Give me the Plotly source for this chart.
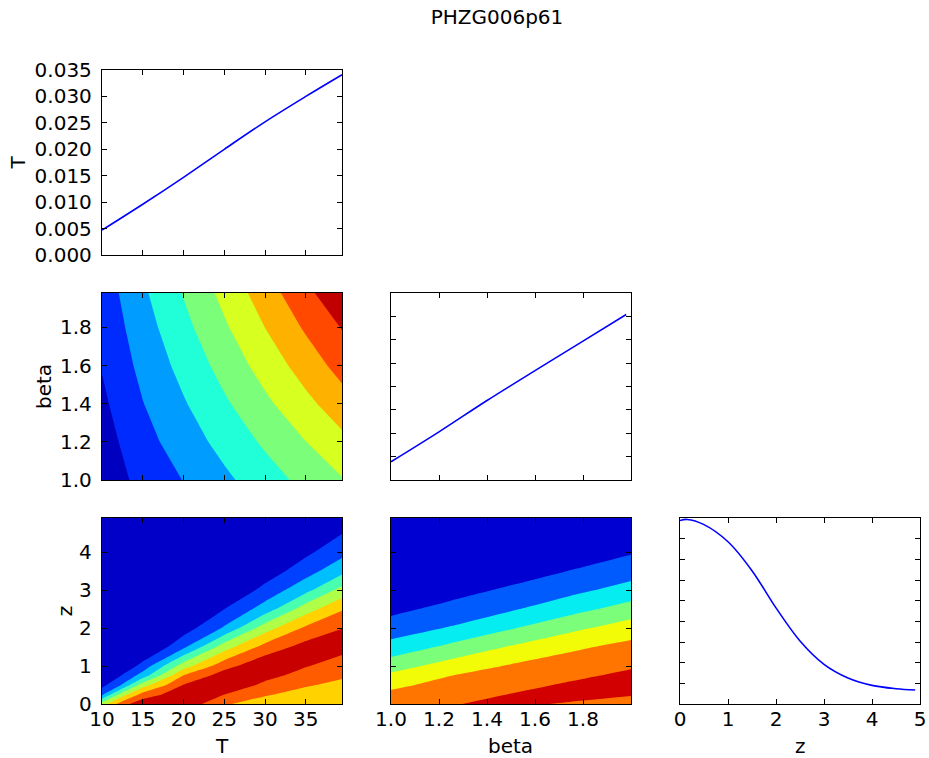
import plotly.graph_objects as go

title_text = "PHZG006p61"

# ---- 1-D marginal curves ----
T_line_x = [10, 15, 20, 25, 30, 35, 39.44]
T_line_p = [0.0047, 0.0096, 0.0147, 0.0200, 0.0252, 0.0300, 0.0341]

beta_line_x = [1.0, 1.2, 1.4, 1.6, 1.8, 1.98]
beta_line_p = [0.0039, 0.0103, 0.0170, 0.0234, 0.0297, 0.0354]

z_line_x = [0, 0.15, 0.5, 1.0, 1.5, 2.0, 2.5, 3.0, 3.5, 4.0, 4.5, 4.9]
z_line_p = [0.0888, 0.0893, 0.0868, 0.0785, 0.0645, 0.0465, 0.0305, 0.0192,
            0.0126, 0.0090, 0.0074, 0.0068]

# ---- 2-D grids (band level estimated at each node) ----
tb_T = [10, 15, 20, 25, 30, 35, 39.44]
tb_beta = [1.0, 1.2, 1.4, 1.6, 1.8, 1.98]
tb_level = [
    [0.45, 1.27, 2.03, 2.79, 3.55, 4.30, 4.93],
    [0.55, 1.65, 2.49, 3.33, 4.16, 4.99, 5.74],
    [0.80, 1.97, 2.91, 3.85, 4.79, 5.74, 6.57],
    [1.06, 2.28, 3.32, 4.36, 5.41, 6.45, 7.38],
    [1.25, 2.57, 3.72, 4.86, 6.01, 7.14, 8.05],
    [1.42, 2.83, 4.06, 5.29, 6.52, 7.75, 8.75],
]

tz_T = [10, 12.5, 15, 20, 25, 30, 35, 39.44]
tz_z = [0, 0.25, 0.5, 0.75, 1.0, 1.5, 2.0, 2.5, 3.0, 3.5, 4.0, 4.5, 4.9]
tz_level = [
    [4.54, 6.61, 7.69, 7.73, 6.12, 5.48, 5.20, 5.20],
    [1.82, 4.53, 6.37, 7.70, 7.01, 6.11, 5.62, 5.35],
    [0.68, 2.10, 4.54, 7.05, 7.91, 6.73, 6.10, 5.75],
    [-0.45, 1.09, 2.44, 6.04, 7.48, 7.36, 6.58, 6.14],
    [-1, 0.13, 1.39, 4.54, 6.65, 7.77, 7.06, 6.54],
    [-1, -1, -0.26, 1.80, 4.54, 6.38, 7.38, 7.33],
    [-1, -1, -1, 0.49, 2.12, 4.53, 6.19, 6.99],
    [-1, -1, -1, -0.81, 0.99, 2.45, 4.53, 5.91],
    [-1, -1, -1, -1, -0.09, 1.33, 2.70, 4.36],
    [-1, -1, -1, -1, -1, 0.42, 1.59, 2.72],
    [-1, -1, -1, -1, -1, -0.50, 0.79, 1.69],
    [-1, -1, -1, -1, -1, -1, -0.01, 0.97],
    [-1, -1, -1, -1, -1, -1, -0.64, 0.40],
]

bz_beta = [1.0, 1.25, 1.5, 1.75, 2.0]
bz_z = [0, 0.25, 0.5, 0.75, 1.0, 1.5, 2.0, 2.5, 3.0, 3.5, 4.0, 4.5, 4.9]
bz_level = [
    [5.53, 5.94, 6.25, 5.86, 5.48],
    [5.21, 5.62, 6.03, 6.42, 6.10],
    [4.79, 5.31, 5.72, 6.12, 6.51],
    [4.19, 4.99, 5.41, 5.81, 6.20],
    [3.58, 4.42, 5.10, 5.51, 5.90],
    [2.36, 3.24, 4.09, 4.82, 5.30],
    [1.48, 2.08, 2.92, 3.76, 4.50],
    [0.73, 1.32, 1.89, 2.65, 3.44],
    [-0.01, 0.60, 1.18, 1.73, 2.39],
    [-0.76, -0.13, 0.47, 1.04, 1.58],
    [-1, -0.86, -0.24, 0.35, 0.91],
    [-1, -1, -0.95, -0.35, 0.23],
    [-1, -1, -1, -0.90, -0.31],
]

# band colours (jet colour map sampled at band centres)
tb_colors = ["rgb(0,0,192)", "rgb(0,43,255)", "rgb(0,156,255)", "rgb(32,255,215)",
             "rgb(123,255,123)", "rgb(215,255,32)", "rgb(255,177,0)", "rgb(255,72,0)",
             "rgb(192,0,0)"]
tz_colors = ["rgb(0,0,200)", "rgb(0,64,255)", "rgb(0,191,255)", "rgb(72,255,175)",
             "rgb(175,255,72)", "rgb(255,210,0)", "rgb(255,92,0)", "rgb(200,0,0)"]
bz_colors = ["rgb(0,0,210)", "rgb(0,91,255)", "rgb(6,237,241)", "rgb(123,255,123)",
             "rgb(241,252,6)", "rgb(255,117,0)", "rgb(210,0,0)"]

# x-axis titles of the bottom row
x_titles = ["T", "beta", "z"]


def stepped(colors):
    n = len(colors)
    scale = []
    for k, c in enumerate(colors):
        lo = max(0.0, (k - 0.5) / n)
        hi = min(1.0, (k + 0.5) / n) if k < n - 1 else 1.0
        scale.append([lo, c])
        scale.append([hi, c])
    return scale


FONT = "DejaVu Sans"
W, H = 929, 758
cols = [(102, 342), (391, 631), (680, 920)]
rows = [(70, 255), (293, 480), (518, 704)]


def xdom(c):
    return [cols[c][0] / W, cols[c][1] / W]


def ydom(r):
    return [1 - rows[r][1] / H, 1 - rows[r][0] / H]


fig = go.Figure()

LINE = dict(color="#0000ff", width=1.6, shape="spline")

fig.add_trace(go.Scatter(x=T_line_x, y=T_line_p, mode="lines", line=LINE,
                         xaxis="x", yaxis="y", showlegend=False, hoverinfo="skip"))
fig.add_trace(go.Scatter(x=beta_line_x, y=beta_line_p, mode="lines", line=LINE,
                         xaxis="x3", yaxis="y3", showlegend=False, hoverinfo="skip"))
fig.add_trace(go.Scatter(x=z_line_x, y=z_line_p, mode="lines", line=LINE,
                         xaxis="x6", yaxis="y6", showlegend=False, hoverinfo="skip"))


def contour(x, y, z, colors, xa, ya):
    return go.Contour(
        x=x, y=y, z=z, colorscale=stepped(colors), showscale=False, autocontour=False,
        contours=dict(start=1, end=len(colors), size=1, coloring="fill", showlines=False),
        line=dict(width=0, smoothing=0), xaxis=xa, yaxis=ya, hoverinfo="skip")


fig.add_trace(contour(tb_T, tb_beta, tb_level, tb_colors, "x2", "y2"))
fig.add_trace(contour(tz_T, tz_z, tz_level, tz_colors, "x4", "y4"))
fig.add_trace(contour(bz_beta, bz_z, bz_level, bz_colors, "x5", "y5"))

tickfont = dict(family=FONT, size=20, color="black")
titlefont = dict(family=FONT, size=20, color="black")


def axis(dom, rng, tickvals, labels, anchor, fmt=None, title=None, standoff=None, lstand=5):
    d = dict(domain=dom, range=rng, tickvals=tickvals, showticklabels=labels,
             showline=True, linecolor="black", linewidth=1.3, mirror="ticks",
             ticks="inside", ticklen=5, tickwidth=1, tickcolor="black",
             showgrid=False, zeroline=False, tickfont=tickfont, anchor=anchor,
             ticklabelstandoff=lstand, automargin=False)
    if fmt:
        d["tickformat"] = fmt
    if title:
        d["title"] = dict(text=title, font=titlefont, standoff=standoff)
    return d


eps = 1e-9
Tticks = [10, 15, 20, 25, 30, 35]
bticks = [1.0, 1.2, 1.4, 1.6, 1.8]
zticks = [0, 1, 2, 3, 4]

annotations = []
for c, txt in enumerate(x_titles):
    annotations.append(dict(
        text=txt, xref="paper", yref="paper", x=(cols[c][0] + cols[c][1]) / 2 / W,
        y=1 - 746 / H, xanchor="center", yanchor="middle", showarrow=False,
        font=titlefont))

fig.update_layout(
    template="none",
    width=W, height=H, margin=dict(l=0, r=0, t=0, b=0, autoexpand=False),
    paper_bgcolor="white", plot_bgcolor="white", showlegend=False,
    title=dict(text=title_text, x=497 / W, xanchor="center", y=1 - 17 / H, yanchor="middle",
               yref="container", xref="container", font=dict(family=FONT, size=20, color="black")),
    annotations=annotations,
    # top-left: T marginal
    xaxis=axis(xdom(0), [10, 39.44], Tticks, False, "y"),
    yaxis=axis(ydom(0), [0 - eps, 0.035 + eps], [0, 0.005, 0.01, 0.015, 0.02, 0.025, 0.03, 0.035],
               True, "x", fmt=".3f", title="T", standoff=3),
    # middle-left: T vs beta
    xaxis2=axis(xdom(0), [10, 39.44], Tticks, False, "y2"),
    yaxis2=axis(ydom(1), [1.0 - eps, 1.98], bticks, True, "x2", fmt=".1f", title="beta", standoff=3),
    # middle: beta marginal
    xaxis3=axis(xdom(1), [1.0, 2.0], bticks, False, "y3"),
    yaxis3=axis(ydom(1), [0, 0.04], [0.005 * i for i in range(1, 8)], False, "x3"),
    # bottom-left: T vs z
    xaxis4=axis(xdom(0), [10 - eps, 39.44], Tticks, True, "y4", lstand=-3),
    yaxis4=axis(ydom(2), [0 - eps, 4.9], zticks, True, "x4", title="z", standoff=1),
    # bottom-middle: beta vs z
    xaxis5=axis(xdom(1), [1.0 - eps, 2.0], bticks, True, "y5", fmt=".1f", lstand=-3),
    yaxis5=axis(ydom(2), [0, 4.9], zticks, False, "x5"),
    # bottom-right: z marginal
    xaxis6=axis(xdom(2), [0 - eps, 5 + eps], [0, 1, 2, 3, 4, 5], True, "y6", lstand=-3),
    yaxis6=axis(ydom(2), [0, 0.09], [0.01 * i for i in range(1, 9)], False, "x6"),
)

fig.write_html("out.html")
